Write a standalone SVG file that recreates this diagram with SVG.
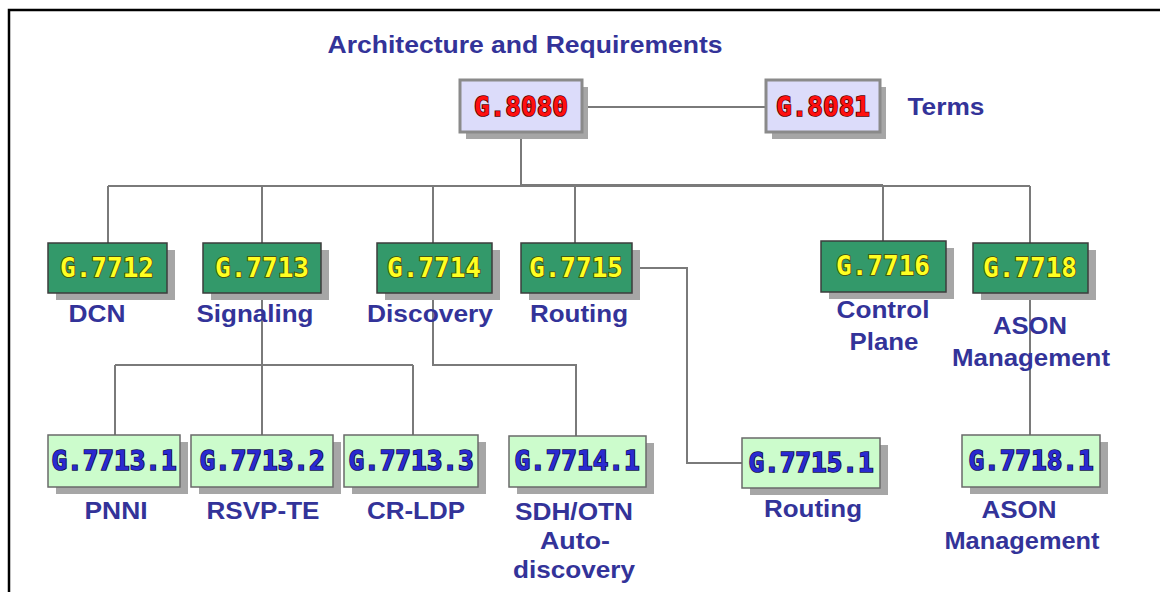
<svg xmlns="http://www.w3.org/2000/svg" width="1160" height="592" viewBox="0 0 1160 592">
<style>
.frame{stroke:#000;stroke-width:2.5;fill:none}
.conn{stroke:#7a7a7a;stroke-width:2;fill:none}
.shadow{fill:#a6a6a6}
.top{fill:#dcdcfa;stroke:#8a8a8a;stroke-width:3}
.mid{fill:#33996a;stroke:#3d3d3d;stroke-width:1.5}
.low{fill:#ccfccc;stroke:#6a6a6a;stroke-width:1.5}
.code{font-family:"DejaVu Sans Mono","Liberation Mono",monospace;font-weight:bold;font-size:26px;text-anchor:middle;paint-order:stroke;stroke-width:1.6}
.red{fill:#ff1010;stroke:#5a0000}
.yel{fill:#ffff22;stroke:#4a4a00}
.blu{fill:#2a2ad0;stroke:#101050}
.lbl{font-family:"Liberation Sans",Arial,sans-serif;font-weight:bold;font-size:24px;fill:#333399;text-anchor:middle}
</style>
<rect width="1160" height="592" fill="#fff"/>
<path class="frame" d="M9,592 V10 H1160"/>

<g id="connectors">
<path class="conn" d="M582,107 H766"/>
<path class="conn" d="M521,132 V186"/>
<path class="conn" d="M108,186 H1030"/>
<path class="conn" d="M521,185 H883" stroke-width="3"/>
<path class="conn" d="M108,186 V243"/>
<path class="conn" d="M262,186 V243"/>
<path class="conn" d="M433,186 V243"/>
<path class="conn" d="M575,186 V243"/>
<path class="conn" d="M883,186 V241"/>
<path class="conn" d="M1030,186 V243"/>
<path class="conn" d="M262,293 V435"/>
<path class="conn" d="M115,365 H413"/>
<path class="conn" d="M115,365 V435"/>
<path class="conn" d="M413,365 V435"/>
<path class="conn" d="M433,293 V365 H576 V436"/>
<path class="conn" d="M632,268 H687 V463 H742"/>
<path class="conn" d="M1030,293 V435"/>
</g>

<text class="lbl" x="525" y="53" textLength="395" lengthAdjust="spacingAndGlyphs">Architecture and Requirements</text>

<g id="g8080">
<rect class="shadow" x="466" y="87" width="122" height="52"/>
<rect class="top" x="460" y="80" width="122" height="52"/>
<text class="code red" x="521" y="116">G.8080</text>
</g>
<g id="g8081">
<rect class="shadow" x="772" y="87" width="114" height="52"/>
<rect class="top" x="766" y="80" width="114" height="52"/>
<text class="code red" x="823" y="116">G.8081</text>
<text class="lbl" x="946" y="115" textLength="77" lengthAdjust="spacingAndGlyphs">Terms</text>
</g>

<g id="g7712">
<rect class="shadow" x="56" y="250" width="119" height="50"/>
<rect class="mid" x="48" y="243" width="119" height="50"/>
<text class="code yel" x="107" y="277">G.7712</text>
<text class="lbl" x="97" y="322" textLength="57" lengthAdjust="spacingAndGlyphs">DCN</text>
</g>
<g id="g7713">
<rect class="shadow" x="211" y="250" width="118" height="50"/>
<rect class="mid" x="203" y="243" width="118" height="50"/>
<text class="code yel" x="262" y="277">G.7713</text>
<text class="lbl" x="255" y="322" textLength="117" lengthAdjust="spacingAndGlyphs">Signaling</text>
</g>
<g id="g7714">
<rect class="shadow" x="385" y="250" width="115" height="50"/>
<rect class="mid" x="377" y="243" width="115" height="50"/>
<text class="code yel" x="434" y="277">G.7714</text>
<text class="lbl" x="430" y="322" textLength="126" lengthAdjust="spacingAndGlyphs">Discovery</text>
</g>
<g id="g7715">
<rect class="shadow" x="529" y="250" width="111" height="50"/>
<rect class="mid" x="521" y="243" width="111" height="50"/>
<text class="code yel" x="576" y="277">G.7715</text>
<text class="lbl" x="579" y="322" textLength="98" lengthAdjust="spacingAndGlyphs">Routing</text>
</g>
<g id="g7716">
<rect class="shadow" x="829" y="248" width="125" height="51"/>
<rect class="mid" x="821" y="241" width="125" height="51"/>
<text class="code yel" x="883" y="275">G.7716</text>
<text class="lbl" x="883" y="318" textLength="93" lengthAdjust="spacingAndGlyphs">Control</text>
<text class="lbl" x="884" y="350" textLength="69" lengthAdjust="spacingAndGlyphs">Plane</text>
</g>
<g id="g7718">
<rect class="shadow" x="981" y="250" width="115" height="50"/>
<rect class="mid" x="973" y="243" width="115" height="50"/>
<text class="code yel" x="1030" y="277">G.7718</text>
<text class="lbl" x="1030" y="334" textLength="74" lengthAdjust="spacingAndGlyphs">ASON</text>
<text class="lbl" x="1031" y="366" textLength="158" lengthAdjust="spacingAndGlyphs">Management</text>
</g>

<g id="g7713_1">
<rect class="shadow" x="56" y="442" width="132" height="52"/>
<rect class="low" x="48" y="435" width="132" height="52"/>
<text class="code blu" x="114" y="470">G.7713.1</text>
<text class="lbl" x="116" y="519" textLength="63" lengthAdjust="spacingAndGlyphs">PNNI</text>
</g>
<g id="g7713_2">
<rect class="shadow" x="199" y="442" width="142" height="52"/>
<rect class="low" x="191" y="435" width="142" height="52"/>
<text class="code blu" x="262" y="470">G.7713.2</text>
<text class="lbl" x="263" y="519" textLength="113" lengthAdjust="spacingAndGlyphs">RSVP-TE</text>
</g>
<g id="g7713_3">
<rect class="shadow" x="352" y="442" width="134" height="52"/>
<rect class="low" x="344" y="435" width="134" height="52"/>
<text class="code blu" x="411" y="470">G.7713.3</text>
<text class="lbl" x="416" y="519" textLength="98" lengthAdjust="spacingAndGlyphs">CR-LDP</text>
</g>
<g id="g7714_1">
<rect class="shadow" x="517" y="443" width="137" height="51"/>
<rect class="low" x="509" y="436" width="137" height="51"/>
<text class="code blu" x="577" y="470">G.7714.1</text>
<text class="lbl" x="574" y="520" textLength="118" lengthAdjust="spacingAndGlyphs">SDH/OTN</text>
<text class="lbl" x="575" y="549" textLength="70" lengthAdjust="spacingAndGlyphs">Auto-</text>
<text class="lbl" x="574" y="578" textLength="122" lengthAdjust="spacingAndGlyphs">discovery</text>
</g>
<g id="g7715_1">
<rect class="shadow" x="750" y="445" width="138" height="50"/>
<rect class="low" x="742" y="438" width="138" height="50"/>
<text class="code blu" x="811" y="472">G.7715.1</text>
<text class="lbl" x="813" y="517" textLength="98" lengthAdjust="spacingAndGlyphs">Routing</text>
</g>
<g id="g7718_1">
<rect class="shadow" x="970" y="442" width="138" height="52"/>
<rect class="low" x="962" y="435" width="138" height="52"/>
<text class="code blu" x="1031" y="470">G.7718.1</text>
<text class="lbl" x="1019" y="518" textLength="75" lengthAdjust="spacingAndGlyphs">ASON</text>
<text class="lbl" x="1022" y="549" textLength="155" lengthAdjust="spacingAndGlyphs">Management</text>
</g>
</svg>
